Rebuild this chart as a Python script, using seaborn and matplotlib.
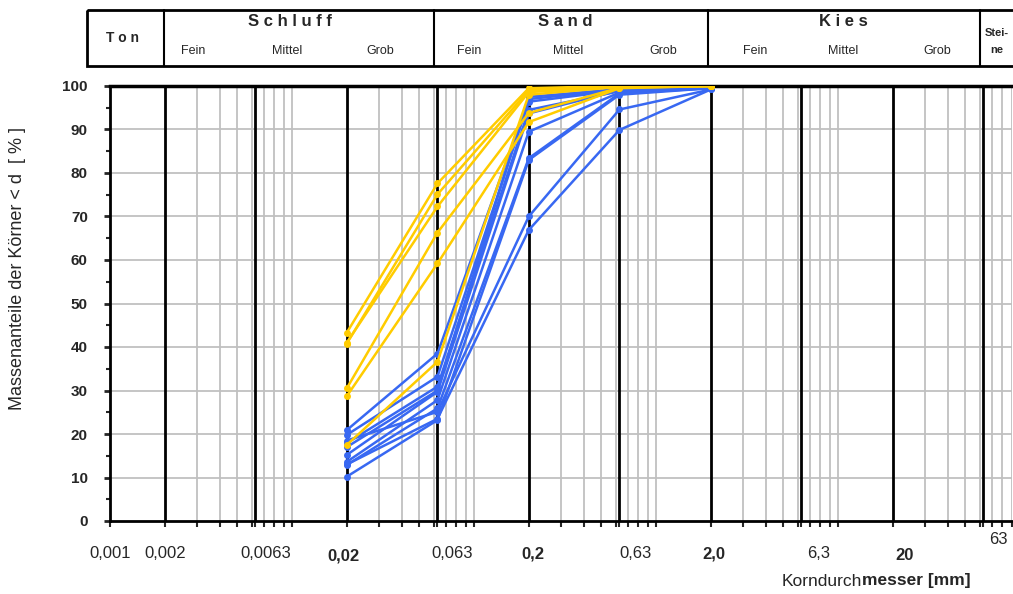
import numpy as np
import pandas as pd
import seaborn as sns
import matplotlib.pyplot as plt
from matplotlib.patches import Rectangle
from matplotlib.ticker import NullFormatter
import matplotlib.transforms as mtransforms

# sieve sizes [mm]
korn = [0.02, 0.063, 0.2, 0.63, 2.0]

# passing percentages, yellow samples
gelb = [
    [43.3, 77.6, 99.5, 100.0, 100.0],
    [40.8, 75.1, 99.0, 100.0, 100.0],
    [41.0, 72.3, 98.6, 99.8, 100.0],
    [30.5, 66.3, 93.8, 99.6, 100.0],
    [28.7, 59.2, 91.7, 99.5, 100.0],
    [17.5, 36.6, 98.0, 99.8, 100.0],
]
# passing percentages, blue samples
blau = [
    [20.9, 38.5, 97.0, 99.2, 99.5],
    [19.8, 33.2, 96.4, 99.0, 99.5],
    [17.9, 30.9, 94.5, 98.8, 99.5],
    [15.2, 29.7, 93.7, 99.0, 99.5],
    [13.6, 27.8, 89.5, 98.5, 99.5],
    [12.9, 25.9, 83.4, 98.3, 99.5],
    [10.2, 23.2, 83.0, 98.0, 99.5],
    [18.5, 25.1, 70.0, 94.6, 99.2],
    [13.0, 23.5, 66.9, 89.9, 99.2],
    [17.0, 30.0, 97.5, 99.3, 99.5],
]

tick_werte = [0.001, 0.002, 0.0063, 0.02, 0.063, 0.2, 0.63, 2.0, 6.3, 20, 63]
tick_texte = ["0,001", "0,002", "0,0063", "0,02", "0,063", "0,2", "0,63", "2,0", "6,3", "20", "63"]
tick_fett = [False, False, False, True, False, True, False, True, False, True, False]
tick_dx = [0, 0, 10, -3, 15, 4, 16, 3, 17, 12, 15]
tick_dy = [0, 0, 0, -2, 0, 0, 0, 0, 0, -2, 14]
schwarze_linien = [0.002, 0.0063, 0.02, 0.063, 0.2, 0.63, 2.0, 6.3, 20, 63]

rows = []
for i, werte in enumerate(blau):
    for k, p in zip(korn, werte):
        rows.append({"probe": f"b{i}", "gruppe": "blau", "d": k, "p": p})
for i, werte in enumerate(gelb):
    for k, p in zip(korn, werte):
        rows.append({"probe": f"g{i}", "gruppe": "gelb", "d": k, "p": p})
df = pd.DataFrame(rows)

sns.set_style("white")
plt.rcParams["font.family"] = ["Liberation Sans", "DejaVu Sans"]

fig = plt.figure(figsize=(10.13, 5.94), dpi=100)
ax = fig.add_axes([110 / 1013, 73 / 594, 902 / 1013, 435 / 594])
ax.set_xscale("log")
x_max = 0.001 * 10 ** (902 / 182)

# grid: grey lines at 3..10 of each decade, black at the class limits
minor = [m * 10.0 ** e for e in range(-3, 2) for m in range(3, 11)]
minor = [x for x in minor if x < x_max]
for x in minor:
    ax.axvline(x, color="#c0c0c0", lw=1.3, zorder=1)
for y in range(10, 100, 10):
    ax.axhline(y, color="#c0c0c0", lw=1.3, zorder=1)
for x in schwarze_linien:
    ax.axvline(x, color="black", lw=2, zorder=1.5)

sns.lineplot(data=df, x="d", y="p", hue="gruppe", units="probe", estimator=None,
             palette={"blau": "#3868f2", "gelb": "#ffcc00"}, marker="o",
             markersize=5, markeredgewidth=0, lw=1.8, legend=False, ax=ax, zorder=3)

ax.set_xlabel("")
ax.set_ylabel("Massenanteile der Körner < d  [ % ]", fontsize=13)
ax.yaxis.set_label_coords(-84 / 902, (521 - 269) / 435)
ax.set_yticks(range(0, 101, 10))
ax.set_yticks(range(5, 100, 10), minor=True)
ax.set_yticklabels([str(v) for v in range(0, 101, 10)], fontsize=11, fontweight="bold")
ax.tick_params(axis="y", which="major", direction="out", length=4, width=2, left=True, pad=12)
ax.tick_params(axis="y", which="minor", direction="out", length=3, width=1.5, left=True)

ax.set_xticks(minor, minor=True)
ax.set_xticks(tick_werte)
ax.set_xticklabels([])
ax.xaxis.set_minor_formatter(NullFormatter())
ax.tick_params(axis="x", which="both", direction="out", length=4, width=1.5, bottom=True)
ax.set_xlim(0.001, x_max)
ax.set_ylim(0, 100)

for w, t, f, dx, dy in zip(tick_werte, tick_texte, tick_fett, tick_dx, tick_dy):
    tr = mtransforms.offset_copy(ax.get_xaxis_transform(), fig=fig, x=dx, y=dy, units="dots")
    ax.text(w, -0.075, t, transform=tr, ha="center", va="center", fontsize=12,
            fontweight="bold" if f else "normal")

fig.text(862 / 1013, 1 - 581 / 594, "Korndurch", fontsize=12.5, ha="right", va="center")
fig.text(862 / 1013, 1 - 581 / 594, "messer [mm]", fontsize=12.5, ha="left", va="center",
         fontweight="bold")

for s in ["left", "bottom", "top"]:
    ax.spines[s].set_color("black")
    ax.spines[s].set_linewidth(2)
ax.spines["top"].set_linewidth(2.5)
ax.spines["right"].set_visible(False)

# header table
kopf = fig.add_axes([0, 0, 1, 1], zorder=5)
kopf.set_xlim(0, 1013)
kopf.set_ylim(594, 0)
kopf.axis("off")
kopf.add_patch(Rectangle((87, 10), 940, 56, fill=False, lw=2, edgecolor="black"))
for x in [164, 434, 708, 980]:
    kopf.plot([x, x], [10, 66], color="black", lw=1.5)
kopf.text(123, 38, "T o n", ha="center", va="center", fontsize=10, fontweight="bold")
for name, xc in [("S c h l u f f", 290), ("S a n d", 565), ("K i e s", 843)]:
    kopf.text(xc, 21, name, ha="center", va="center", fontsize=12, fontweight="bold")
for xs in [(193, 287, 380), (469, 568, 663), (755, 843, 937)]:
    for t, xc in zip(["Fein", "Mittel", "Grob"], xs):
        kopf.text(xc, 51, t, ha="center", va="center", fontsize=9)
kopf.text(997, 33, "Stei-", ha="center", va="center", fontsize=8, fontweight="bold")
kopf.text(997, 50, "ne", ha="center", va="center", fontsize=8, fontweight="bold")

fig.savefig("out.png", dpi=100)
